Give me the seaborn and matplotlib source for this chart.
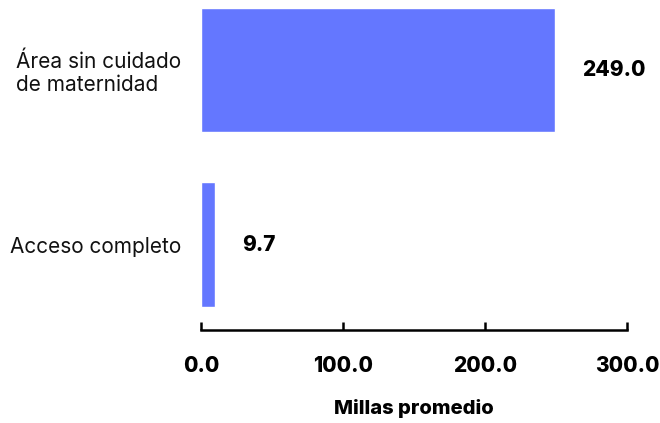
import matplotlib
matplotlib.use("Agg")
import pandas as pd
import seaborn as sns
import matplotlib.pyplot as plt

categorias = ["Área sin cuidado\nde maternidad", "Acceso completo"]
millas = [249.0, 9.7]
ticks_x = [0, 100, 200, 300]

df = pd.DataFrame({"categoria": categorias, "millas": millas})

sns.set_style("white")
plt.rcParams["font.family"] = ["Inter", "DejaVu Sans"]

fig = plt.figure(figsize=(6.6, 4.23), dpi=100)
ax = fig.add_axes([201 / 660, 93 / 423, 426 / 660, 330 / 423])

sns.barplot(data=df, x="millas", y="categoria", color="#6477ff", width=0.714,
            saturation=1, ax=ax)

# etiquetas de valor
for i, v in enumerate(millas):
    ax.annotate(f"{v:.1f}", xy=(v, i), xytext=(20, 0), textcoords="offset points",
                ha="left", va="center", fontsize=15, fontweight="heavy",
                color="black", annotation_clip=False)

ax.set_xlim(0, 300)
ax.set_ylim(1.486, -0.4)
ax.set_xticks(ticks_x)
ax.set_xticklabels([f"{t:.1f}" for t in ticks_x], fontsize=15, fontweight="heavy")
ax.tick_params(axis="x", bottom=True, direction="in", length=6, width=1.8,
               pad=19, color="black", labelcolor="black")
ax.tick_params(axis="y", length=0, pad=14, labelsize=15, labelcolor="#111111")
for lab in ax.get_yticklabels():
    lab.set_multialignment("left")

for s in ["top", "right", "left"]:
    ax.spines[s].set_visible(False)
ax.spines["bottom"].set_linewidth(1.8)
ax.spines["bottom"].set_color("black")

ax.set_ylabel("")
ax.set_xlabel("Millas promedio", fontsize=14.5, fontweight="heavy", labelpad=16,
              color="black")

fig.savefig("out.png", dpi=100)
